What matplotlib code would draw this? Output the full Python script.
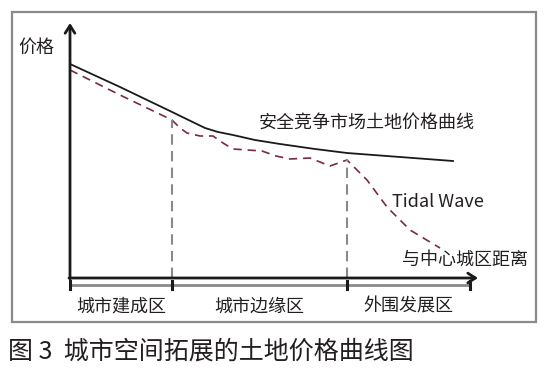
import matplotlib.pyplot as plt
from matplotlib.patches import Rectangle

plt.rcParams['font.family'] = ['Noto Sans CJK SC', 'DejaVu Sans']

# distance from city centre / land price (arbitrary units)
solid_dist = [0, 50, 100, 135, 148, 163, 185, 210, 245, 277, 330, 383]
solid_price = [214, 191, 167, 150, 146, 143, 138, 134, 129, 125, 121, 117]

wave_dist = [0, 50, 102, 110, 117, 130, 143, 153, 163, 192, 206, 220, 240,
             260, 277, 297, 317, 340, 370]
wave_price = [208, 183, 158, 150, 145, 142, 142, 135, 129, 127, 122, 119, 120,
              112, 118, 98, 71, 48, 30]

zone_bounds = [0, 102, 277, 400]
zone_names = ['城市建成区', '城市边缘区', '外围发展区']

text_col = '#231f20'
gray = '#8a8a8a'

fig = plt.figure(figsize=(5.55, 3.74), dpi=100)
ax = fig.add_axes([0, 0, 1, 1])
ax.set_xlim(-70, 485)
ax.set_ylim(-96, 278)
ax.axis('off')

# outer frame
fig.patches.append(Rectangle((12 / 555, 52 / 374), 524 / 555, 310 / 374,
                             transform=fig.transFigure, fill=False,
                             edgecolor=gray, linewidth=1.6))

# axes with arrows
arrow = dict(arrowstyle='->,head_length=0.55,head_width=0.35',
             color='#1a1a1a', lw=2.0, shrinkA=0, shrinkB=0)
ax.annotate('', xy=(0, 255), xytext=(0, -1), arrowprops=arrow)
ax.annotate('', xy=(408, 0), xytext=(-1, 0), arrowprops=arrow)

# curves
ax.plot(solid_dist, solid_price, color='#1a1a1a', lw=1.3)
ax.plot(wave_dist, wave_price, color='#7b2a3c', lw=1.2, ls=(0, (5, 3.5)))

# zone boundaries
for b in zone_bounds[1:3]:
    top = wave_price[wave_dist.index(b)]
    ax.plot([b, b], [0, top], color=gray, lw=1.5, ls=(0, (5, 3)))

# zone bracket
ax.plot([zone_bounds[0], zone_bounds[-1]], [-7, -7], color=gray, lw=2)
for b in zone_bounds:
    ax.plot([b, b], [-3, -11], color='#1a1a1a', lw=2.2)
for i, name in enumerate(zone_names):
    ax.text((zone_bounds[i] + zone_bounds[i + 1]) / 2, -29, name,
            ha='center', va='center', fontsize=13, color=text_col)

ax.text(-34, 230, '价格', ha='center', va='center', fontsize=13, color=text_col)
ax.text(297, 155, '安全竞争市场土地价格曲线', ha='center', va='center',
        fontsize=13, color=text_col)
ax.text(368, 76, 'Tidal Wave', ha='center', va='center', fontsize=13,
        color=text_col)
ax.text(395, 18, '与中心城区距离', ha='center', va='center', fontsize=13,
        color=text_col)

ax.text(-62, -74, '图 3  城市空间拓展的土地价格曲线图', ha='left', va='center',
        fontsize=18, color=text_col)

fig.savefig('out.png', dpi=100)
